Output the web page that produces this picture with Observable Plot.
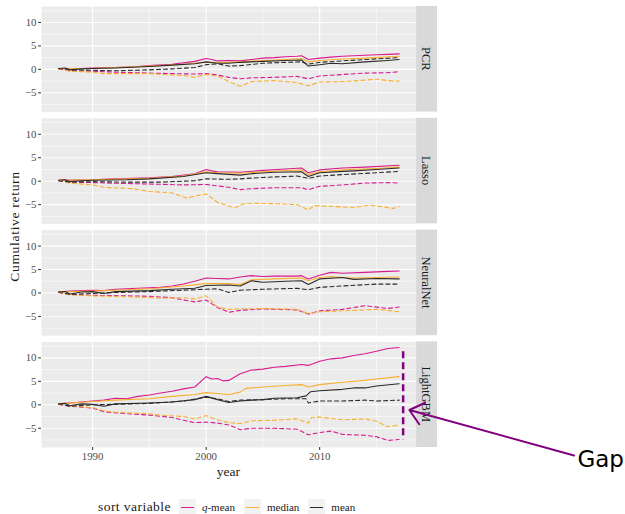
<!DOCTYPE html>
<html>
<head>
<meta charset="utf-8">
<script src="https://cdn.jsdelivr.net/npm/d3@7"></script>
<script src="https://cdn.jsdelivr.net/npm/@observablehq/plot@0.6"></script>
<style>
  body { margin: 0; background: #fff; }
  #wrap { position: relative; width: 625px; height: 514px; font-family: "Liberation Serif", serif; }
  #legend { position: absolute; left: 98px; top: 498px; height: 18px; display: flex; align-items: center; color: #1a1a1a; white-space: nowrap; font-family: "Liberation Serif", serif; }
  #legend .title { font-size: 13.5px; letter-spacing: 0.45px; margin-right: 8px; }
  #legend .key { position: relative; width: 17px; height: 17px; background: #F2F2F2; display: inline-block; }
  #legend .key b { position: absolute; left: 2px; right: 2px; top: 8px; height: 1.5px; display: block; }
  #legend .lab { font-size: 11px; margin-left: 6px; margin-right: 9px; }
</style>
</head>
<body>
<div id="wrap">
  <div id="chart"></div>
  <div id="legend"></div>
</div>
<script>
// ---------- categories / styles ----------
const models = ["PCR", "Lasso", "NeuralNet", "LightGBM"];
const sortVars = ["q-mean", "median", "mean"];
const sortColors = ["#D81B8E", "#F8AF2F", "#2B2B2B"];
const yTicks = [-5, 0, 5, 10];
const yMinor = [-7.5, -2.5, 2.5, 7.5, 12.5];
const xTicks = [1990, 2000, 2010];
const xMinor = [1995, 2005, 2015];

// ---------- PCR ----------
const pcrQmeanSolid = [[1987,0.2],[1988,0.1],[1989,0.2],[1990,0.3],[1992,0.4],[1994,0.6],[1995,0.8],[1997,1.1],[1999,1.7],[2000,2.3],[2000.5,2.1],[2001,1.8],[2002,1.9],[2003,1.8],[2004,2.1],[2005,2.4],[2006,2.5],[2007,2.7],[2008,2.8],[2008.4,2.9],[2009,2.1],[2010,2.4],[2011,2.6],[2012,2.8],[2013,2.9],[2014,3.0],[2015,3.1],[2016,3.2],[2017,3.3]];
const pcrMedianSolid = [[1987,0.2],[1990,0.2],[1993,0.5],[1995,0.7],[1998,1.1],[2000,1.5],[2001,1.4],[2003,1.6],[2005,1.9],[2007,2.1],[2008.4,2.3],[2009,1.6],[2010,1.9],[2012,2.2],[2014,2.4],[2017,2.8]];
const pcrMeanSolid = [[1987,0.2],[1987.6,0.3],[1988,-0.1],[1989,0.1],[1990,0.2],[1992,0.3],[1995,0.6],[1997,0.9],[1999,1.2],[2000,1.6],[2001,1.3],[2002,1.3],[2003,1.5],[2005,1.7],[2007,1.9],[2008.4,2.0],[2009,0.7],[2010,1.0],[2011,1.3],[2012,1.2],[2014,1.6],[2016,1.9],[2017,2.1]];
const pcrMeanDashed = [[1987,0.2],[1988,-0.1],[1990,-0.2],[1992,-0.3],[1995,-0.1],[1997,0.1],[1999,0.4],[2000,1.0],[2001,1.2],[2002,0.7],[2003,0.8],[2005,1.3],[2007,1.5],[2008.4,1.6],[2009,1.1],[2010,1.5],[2012,1.8],[2014,2.1],[2017,2.5]];
const pcrQmeanDashed = [[1987,0.1],[1988,-0.3],[1990,-0.4],[1992,-0.6],[1995,-0.8],[1997,-0.9],[1999,-1.0],[2000,-0.9],[2001,-1.2],[2002,-1.7],[2003,-2.0],[2004,-1.8],[2006,-1.7],[2008,-1.5],[2009,-2.0],[2010,-1.4],[2012,-1.1],[2014,-0.8],[2016,-0.7],[2017,-0.5]];
const pcrMedianDashed = [[1987,0.1],[1988,-0.4],[1990,-0.6],[1991,-0.9],[1993,-0.9],[1995,-0.9],[1997,-1.2],[1998,-1.3],[1999,-1.7],[2000,-1.1],[2001,-1.4],[2002,-2.6],[2003,-3.6],[2004,-2.6],[2006,-2.4],[2008,-2.8],[2009,-3.5],[2010,-2.7],[2012,-2.6],[2014,-2.3],[2015,-2.1],[2016,-2.4],[2017,-2.5]];

// ---------- Lasso ----------
const lassoQmeanSolid = [[1987,0.2],[1990,0.3],[1992,0.5],[1995,0.7],[1997,1.0],[1999,1.6],[2000,2.5],[2000.5,2.2],[2001,2.0],[2003,1.9],[2004,2.1],[2005,2.3],[2007,2.6],[2008.4,2.8],[2009,1.8],[2010,2.4],[2012,2.8],[2014,3.0],[2017,3.4]];
const lassoMedianSolid = [[1987,0.2],[1990,0.3],[1995,0.6],[1998,1.1],[2000,2.0],[2001,1.8],[2003,1.7],[2005,2.0],[2008.4,2.4],[2009,1.4],[2010,2.0],[2012,2.4],[2015,2.7],[2017,3.0]];
const lassoMeanSolid = [[1987,0.2],[1987.6,0.3],[1988,-0.1],[1989,0.1],[1990,0.2],[1993,0.3],[1995,0.5],[1998,1.0],[2000,1.8],[2001,1.6],[2003,1.3],[2004,1.6],[2006,1.9],[2008.4,2.0],[2009,1.0],[2010,1.8],[2012,2.1],[2013,2.2],[2015,2.5],[2017,2.8]];
const lassoMeanDashed = [[1987,0.1],[1988,-0.2],[1990,-0.1],[1993,-0.2],[1996,-0.2],[1999,0.1],[2000,0.5],[2002,0.4],[2003,0.5],[2005,0.8],[2008,1.1],[2009,0.6],[2010,1.1],[2012,1.4],[2015,1.8],[2017,2.1]];
const lassoQmeanDashed = [[1987,0.1],[1988,-0.2],[1990,-0.3],[1993,-0.5],[1995,-0.6],[1998,-0.8],[2000,-0.7],[2001,-1.0],[2002,-1.3],[2003,-1.8],[2004,-1.6],[2006,-1.4],[2008.4,-1.4],[2009,-1.8],[2010,-1.1],[2012,-0.8],[2014,-0.4],[2016,-0.3],[2017,-0.4]];
const lassoMedianDashed = [[1987,0.1],[1988,-0.4],[1990,-0.8],[1991,-1.3],[1993.5,-1.6],[1995,-2.2],[1997,-2.5],[1998.3,-3.6],[1999,-3.2],[2000,-2.7],[2001,-4.5],[2002.5,-5.7],[2003.3,-4.8],[2004,-4.7],[2006,-4.8],[2008,-5.0],[2009,-6.1],[2009.5,-5.2],[2012,-5.5],[2013,-5.6],[2014.5,-5.1],[2016.5,-5.8],[2017,-5.4]];

// ---------- NeuralNet ----------
const nnQmeanSolid = [[1987,0.2],[1988,0.4],[1990,0.6],[1991,0.5],[1992,0.8],[1994,1.0],[1996,1.2],[1997,1.5],[1998,1.9],[1999,2.5],[2000,3.2],[2001,3.1],[2002,3.0],[2003,3.4],[2004,3.7],[2005,3.5],[2006,3.6],[2008,3.6],[2008.4,3.7],[2009,3.0],[2010,3.8],[2011,4.4],[2012,4.2],[2014,4.4],[2016,4.6],[2017,4.7]];
const nnMedianSolid = [[1987,0.2],[1990,0.4],[1993,0.7],[1995,0.9],[1998,1.5],[2000,2.0],[2002,2.0],[2003,1.8],[2004,2.8],[2006,3.0],[2008.4,3.2],[2009,2.6],[2010,3.3],[2011,3.5],[2012,3.3],[2013,3.2],[2015,3.3],[2017,3.4]];
const nnMeanSolid = [[1987,0.2],[1987.6,0.3],[1988,-0.2],[1989,0.2],[1990,0.3],[1991,-0.1],[1992,0.3],[1995,0.5],[1997,0.8],[1999,1.0],[2000,1.6],[2002,1.7],[2003,1.5],[2004,2.6],[2005,2.3],[2007,2.5],[2008.4,2.6],[2009,1.8],[2010,3.0],[2012,3.3],[2013,2.9],[2015,3.1],[2017,3.0]];
const nnMeanDashed = [[1987,0.2],[1988,-0.3],[1990,-0.1],[1992,0.1],[1995,0.3],[1998,0.6],[2000,0.8],[2001,0.9],[2002,0.1],[2003,0.6],[2005,0.8],[2008,1.0],[2009,0.7],[2010,1.2],[2012,1.5],[2015,1.9],[2017,1.9]];
const nnQmeanDashed = [[1987,0.1],[1988,-0.3],[1990,-0.5],[1993,-0.6],[1995,-0.7],[1997,-1.0],[1998,-1.5],[1999,-1.9],[2000,-1.5],[2001,-3.1],[2002,-4.1],[2003,-3.7],[2005,-3.4],[2008,-3.6],[2009,-4.5],[2010,-3.8],[2012,-3.5],[2014,-2.7],[2016,-3.3],[2017,-3.0]];
const nnMedianDashed = [[1987,0.1],[1988,-0.4],[1990,-0.6],[1993,-0.8],[1996,-1.1],[1998,-1.0],[1999,-1.3],[2000,-0.6],[2001,-3.0],[2002,-3.5],[2003,-3.4],[2005,-3.3],[2008,-3.5],[2009,-4.4],[2010,-4.0],[2012,-3.8],[2015,-3.5],[2016,-3.7],[2017,-4.0]];

// ---------- LightGBM ----------
const gbmQmeanSolid = [[1987,0.2],[1988,0.4],[1990,0.8],[1991,1.0],[1992,1.4],[1993,1.3],[1994,1.8],[1995,2.1],[1996,2.5],[1997,2.9],[1998,3.4],[1999,3.8],[2000,6.0],[2000.5,5.5],[2001,5.6],[2001.5,5.1],[2002,5.2],[2003,6.6],[2004,7.4],[2005,7.6],[2006,8.0],[2007,8.2],[2008.4,8.6],[2009,8.4],[2010,9.3],[2011,9.8],[2012,10.0],[2013,10.5],[2014,10.9],[2015,11.4],[2016,12.0],[2017,12.2]];
const gbmMedianSolid = [[1987,0.2],[1990,0.7],[1992,1.0],[1995,1.3],[1997,1.8],[1999,2.2],[2000,2.6],[2001,2.4],[2002,2.2],[2003,2.7],[2003.5,3.5],[2005,3.8],[2007,4.1],[2008.4,4.3],[2009,3.8],[2010,4.3],[2012,4.8],[2014,5.2],[2015,5.5],[2017,6.0]];
const gbmMeanSolid = [[1987,0.2],[1987.6,0.3],[1988,-0.2],[1989,0.2],[1990,0.1],[1991,-0.3],[1992,0.2],[1995,0.4],[1997,0.6],[1999,1.1],[2000,1.8],[2001,1.1],[2002,0.5],[2003,0.8],[2004,1.0],[2005,1.1],[2006,1.4],[2008,1.5],[2008.8,1.9],[2009.2,2.8],[2010,3.0],[2012,3.3],[2013,3.6],[2014,3.6],[2015,4.0],[2017,4.5]];
const gbmMeanDashed = [[1987,0.2],[1988,-0.3],[1990,0.0],[1992,0.1],[1995,0.3],[1998,0.8],[2000,1.6],[2001,1.3],[2002,0.7],[2003,1.0],[2005,1.1],[2007,1.3],[2008.8,1.3],[2009,0.4],[2010,0.8],[2012,0.8],[2014,1.0],[2015,0.8],[2017,1.0]];
const gbmQmeanDashed = [[1987,0.1],[1988,-0.3],[1990,-0.7],[1991,-1.5],[1993,-1.9],[1995,-2.2],[1997,-2.7],[1998,-3.3],[1999,-3.8],[2000,-3.7],[2001,-3.9],[2002,-4.3],[2003,-5.3],[2004,-5.0],[2006,-5.0],[2008,-5.2],[2009,-6.4],[2010,-5.9],[2011,-5.6],[2012,-6.3],[2014,-6.5],[2015,-6.8],[2016,-7.6],[2017,-7.4]];
const gbmMedianDashed = [[1987,0.1],[1988,-0.2],[1990,-0.6],[1991,-1.3],[1992,-1.6],[1995,-1.9],[1996,-2.2],[1998,-2.5],[1999,-3.0],[2000,-2.3],[2001,-3.2],[2002,-3.8],[2003,-4.0],[2004,-3.4],[2006,-3.3],[2008,-3.0],[2009,-3.9],[2009.3,-2.7],[2010,-2.6],[2012,-3.2],[2014,-3.0],[2015,-3.5],[2016,-4.7],[2017,-4.3]];

// ---------- annotation ----------
const gapLine = [{model: "LightGBM", year: 2017.35, top: 11.3, bottom: -7.5}];
const gapArrow = [{model: "LightGBM", fromYear: 2032.4, fromValue: -10.8, toYear: 2017.9, toValue: -1.1}];
const gapLabel = [{model: "LightGBM", year: 2032.7, value: -13.3, text: "Gap"}];

// ---------- table built from the arrays ----------
const seriesList = [
  ["PCR","q-mean","solid",pcrQmeanSolid],["PCR","median","solid",pcrMedianSolid],["PCR","mean","solid",pcrMeanSolid],
  ["PCR","q-mean","dashed",pcrQmeanDashed],["PCR","median","dashed",pcrMedianDashed],["PCR","mean","dashed",pcrMeanDashed],
  ["Lasso","q-mean","solid",lassoQmeanSolid],["Lasso","median","solid",lassoMedianSolid],["Lasso","mean","solid",lassoMeanSolid],
  ["Lasso","q-mean","dashed",lassoQmeanDashed],["Lasso","median","dashed",lassoMedianDashed],["Lasso","mean","dashed",lassoMeanDashed],
  ["NeuralNet","q-mean","solid",nnQmeanSolid],["NeuralNet","median","solid",nnMedianSolid],["NeuralNet","mean","solid",nnMeanSolid],
  ["NeuralNet","q-mean","dashed",nnQmeanDashed],["NeuralNet","median","dashed",nnMedianDashed],["NeuralNet","mean","dashed",nnMeanDashed],
  ["LightGBM","q-mean","solid",gbmQmeanSolid],["LightGBM","median","solid",gbmMedianSolid],["LightGBM","mean","solid",gbmMeanSolid],
  ["LightGBM","q-mean","dashed",gbmQmeanDashed],["LightGBM","median","dashed",gbmMedianDashed],["LightGBM","mean","dashed",gbmMeanDashed]
];
const rows = seriesList.flatMap(([model, sort, style, pts]) =>
  pts.map(([year, value]) => ({model, sort, style, key: model + "|" + sort + "|" + style, year, value})));

const serif = "'Liberation Serif', serif";
const lineOpts = {x: "year", y: "value", z: "key", stroke: "sort", fy: "model", strokeWidth: 1.1};

const chart = Plot.plot({
  width: 625,
  height: 482,
  marginLeft: 41,
  marginRight: 209.3,
  marginTop: 6,
  marginBottom: 35,
  style: {fontFamily: serif, fontSize: "10.8px", background: "white", overflow: "visible"},
  x: {domain: [1985.5, 2018.5]},
  y: {domain: [-9.1, 13.4]},
  fy: {domain: models, paddingInner: 0.056, paddingOuter: 0, round: false, axis: null, label: null},
  color: {domain: sortVars, range: sortColors},
  marks: [
    Plot.frame({fill: "#EBEBEB", stroke: "none"}),
    Plot.gridY(yMinor, {stroke: "white", strokeOpacity: 1, strokeWidth: 0.55}),
    Plot.gridX(xMinor, {stroke: "white", strokeOpacity: 1, strokeWidth: 0.55}),
    Plot.gridY(yTicks, {stroke: "white", strokeOpacity: 1, strokeWidth: 1.1}),
    Plot.gridX(xTicks, {stroke: "white", strokeOpacity: 1, strokeWidth: 1.1}),
    Plot.line(rows.filter(d => d.style === "dashed"), {...lineOpts, strokeDasharray: "4,3"}),
    Plot.line(rows.filter(d => d.style === "solid"), lineOpts),
    Plot.axisY(yTicks, {tickSize: 3, tickPadding: 2, stroke: "#333333", fill: "#4D4D4D", label: null, fontFamily: serif, fontSize: 10.8}),
    Plot.axisX(xTicks, {tickSize: 3, tickPadding: 2, stroke: "#333333", fill: "#4D4D4D", label: null, tickFormat: d => String(d), fontFamily: serif, fontSize: 10.8}),
    Plot.ruleX(gapLine, {x: "year", y1: "top", y2: "bottom", fy: "model", stroke: "#800080", strokeWidth: 2.5, strokeDasharray: "7,4"}),
    Plot.arrow(gapArrow, {x1: "fromYear", y1: "fromValue", x2: "toYear", y2: "toValue", fy: "model", stroke: "#800080", strokeWidth: 2, headLength: 13, headAngle: 80}),
    Plot.text(gapLabel, {x: "year", y: "value", text: "text", fy: "model", textAnchor: "start", lineAnchor: "bottom", fontFamily: "'DejaVu Sans', sans-serif", fontSize: 23, fill: "black"})
  ]
});

document.getElementById("chart").appendChild(chart);

// strips and axis titles, positioned from Plot's own scales
const svg = d3.select(chart);
const fy = chart.scale("fy");
const xs = chart.scale("x");
const xRight = Math.max(...xs.range);
const xLeft = Math.min(...xs.range);
const bw = fy.bandwidth;
// strips go underneath everything else so the annotation arrow stays on top
const stripLayer = svg.insert("g", ":first-child").attr("aria-label", "strips");
models.forEach(m => {
  const top = fy.apply(m);
  stripLayer.append("rect").attr("x", xRight).attr("y", top).attr("width", 21.3).attr("height", bw).attr("fill", "#D9D9D9");
  stripLayer.append("text")
    .attr("transform", `translate(${xRight + 10.7},${top + bw / 2}) rotate(90)`)
    .attr("text-anchor", "middle").attr("dy", "0.33em")
    .attr("font-family", serif).attr("font-size", 12.5).attr("fill", "#1A1A1A")
    .text(m);
});
const firstTop = fy.apply(models[0]);
const lastBottom = fy.apply(models[models.length - 1]) + bw;
svg.append("text")
  .attr("transform", `translate(15,${(firstTop + lastBottom) / 2}) rotate(-90)`)
  .attr("text-anchor", "middle").attr("dy", "0.33em")
  .attr("font-family", serif).attr("font-size", 13.5).attr("letter-spacing", "0.7px").attr("fill", "#1A1A1A")
  .text("Cumulative return");
svg.append("text")
  .attr("x", (xLeft + xRight) / 2).attr("y", lastBottom + 25)
  .attr("text-anchor", "middle").attr("dy", "0.33em")
  .attr("font-family", serif).attr("font-size", 13.5).attr("fill", "#1A1A1A")
  .text("year");

// legend
const legend = d3.select("#legend");
legend.append("span").attr("class", "title").text("sort variable");
sortVars.forEach((s, i) => {
  const key = legend.append("span").attr("class", "key");
  key.append("b").style("background-color", sortColors[i]);
  const lab = legend.append("span").attr("class", "lab");
  if (s === "q-mean") {
    lab.append("i").text("q");
    lab.append("span").text("-mean");
  } else {
    lab.text(s);
  }
});
</script>
</body>
</html>
